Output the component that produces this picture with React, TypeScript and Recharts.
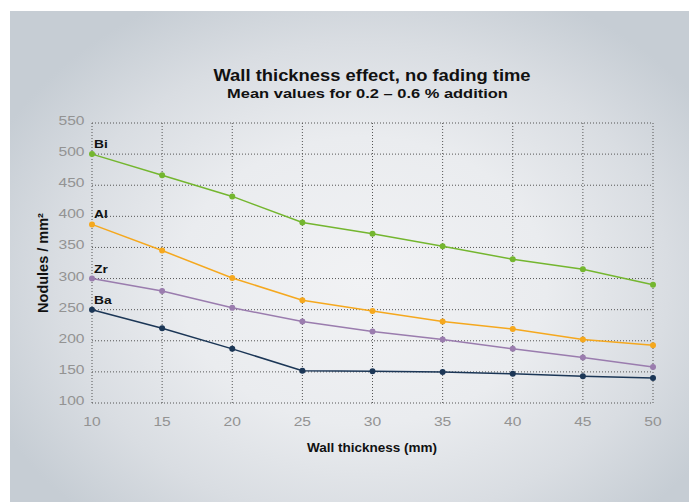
import React from 'react';
import { LineChart, Line, XAxis, YAxis, CartesianGrid, LabelList } from 'recharts';

const thickness = [10, 15, 20, 25, 30, 35, 40, 45, 50];
const bi = [500, 466, 432, 390, 372, 352, 331, 315, 290];
const al = [387, 345, 301, 265, 248, 231, 219, 202, 193];
const zr = [300, 280, 253, 231, 215, 202, 187, 173, 158];
const ba = [250, 220, 187, 152, 151, 150, 147, 143, 140];
const xTicks = [10, 15, 20, 25, 30, 35, 40, 45, 50];
const yTicks = [100, 150, 200, 250, 300, 350, 400, 450, 500, 550];

const seriesDefs = [
  { key: 'Bi', values: bi, color: '#74b62f' },
  { key: 'Al', values: al, color: '#f5a81e' },
  { key: 'Zr', values: zr, color: '#9a7cae' },
  { key: 'Ba', values: ba, color: '#1b3656' },
];

const data = thickness.map((t, i) => {
  const row: any = { t };
  seriesDefs.forEach((s) => (row[s.key] = s.values[i]));
  return row;
});

const FONT = '"Liberation Sans", Arial, Helvetica, sans-serif';
const TICK_FILL = '#939393';

const XTick = (props: any) => {
  const { x, y, payload } = props;
  return (
    <text
      transform={`translate(${x},${y}) scale(1.2,1)`}
      textAnchor="middle"
      dy="0.71em"
      fontFamily={FONT}
      fontSize={13}
      fill={TICK_FILL}
    >
      {payload.value}
    </text>
  );
};

const YTick = (props: any) => {
  const { x, y, payload } = props;
  return (
    <text
      transform={`translate(${x},${y}) scale(1.2,1)`}
      textAnchor="end"
      dy={2}
      fontFamily={FONT}
      fontSize={13}
      fill={TICK_FILL}
    >
      {payload.value}
    </text>
  );
};

const makeLabel = (name: string) => (props: any) => {
  const { x, y, index } = props;
  if (index !== 0) return null;
  return (
    <text
      transform={`translate(${x + 2},${y - 6}) scale(1.2,1)`}
      fontFamily={FONT}
      fontWeight="bold"
      fontSize={11.5}
      fill="#111"
    >
      {name}
    </text>
  );
};

export default function App() {
  return (
    <div style={{ position: 'absolute', left: 0, top: 0, width: 689, height: 502, background: '#fff' }}>
      <div
        style={{
          position: 'absolute',
          left: 10,
          top: 11,
          width: 679,
          height: 491,
          background:
            'radial-gradient(ellipse 60% 65% at 52% 55%, #f1f2f4 0%, #eaecef 45%, #d9dde2 75%, #c6cdd4 100%)',
        }}
      />
      <div style={{ position: 'absolute', left: 0, top: 0 }}>
        <LineChart width={689} height={502} data={data} margin={{ top: 123, right: 36, left: 32, bottom: 69 }}>
          <CartesianGrid stroke="#555" strokeDasharray="1 2" strokeWidth={1} />
          <XAxis
            dataKey="t"
            type="number"
            domain={[10, 50]}
            ticks={xTicks}
            axisLine={false}
            tickLine={false}
            tickSize={0}
            tickMargin={14}
            height={30}
            interval={0}
            tick={<XTick />}
          />
          <YAxis
            type="number"
            domain={[100, 550]}
            ticks={yTicks}
            axisLine={false}
            tickLine={false}
            tickSize={0}
            tickMargin={7.5}
            width={60}
            interval={0}
            tick={<YTick />}
          />
          {seriesDefs.map((s) => (
            <Line
              key={s.key}
              dataKey={s.key}
              stroke={s.color}
              strokeWidth={1.5}
              dot={{ r: 3, fill: s.color, stroke: s.color, strokeWidth: 0 }}
              isAnimationActive={false}
            >
              <LabelList dataKey={s.key} content={makeLabel(s.key)} />
            </Line>
          ))}
        </LineChart>
      </div>
      <svg
        width={689}
        height={502}
        style={{ position: 'absolute', left: 0, top: 0, pointerEvents: 'none' }}
      >
        <text
          transform="translate(372,80.5) scale(1.15,1)"
          textAnchor="middle"
          fontFamily={FONT}
          fontWeight="bold"
          fontSize={16}
          fill="#111"
        >
          Wall thickness effect, no fading time
        </text>
        <text
          transform="translate(367.5,98.3) scale(1.22,1)"
          textAnchor="middle"
          fontFamily={FONT}
          fontWeight="bold"
          fontSize={13.5}
          fill="#111"
        >
          Mean values for 0.2 – 0.6 % addition
        </text>
        <text
          transform="translate(372,452.3) scale(1.04,1)"
          textAnchor="middle"
          fontFamily={FONT}
          fontWeight="bold"
          fontSize={13}
          fill="#111"
        >
          Wall thickness (mm)
        </text>
        <text
          x={48}
          y={263}
          textAnchor="middle"
          transform="rotate(-90 48 263)"
          fontFamily={FONT}
          fontWeight="bold"
          fontSize={14.5}
          fill="#111"
        >
          Nodules / mm²
        </text>
      </svg>
    </div>
  );
}
